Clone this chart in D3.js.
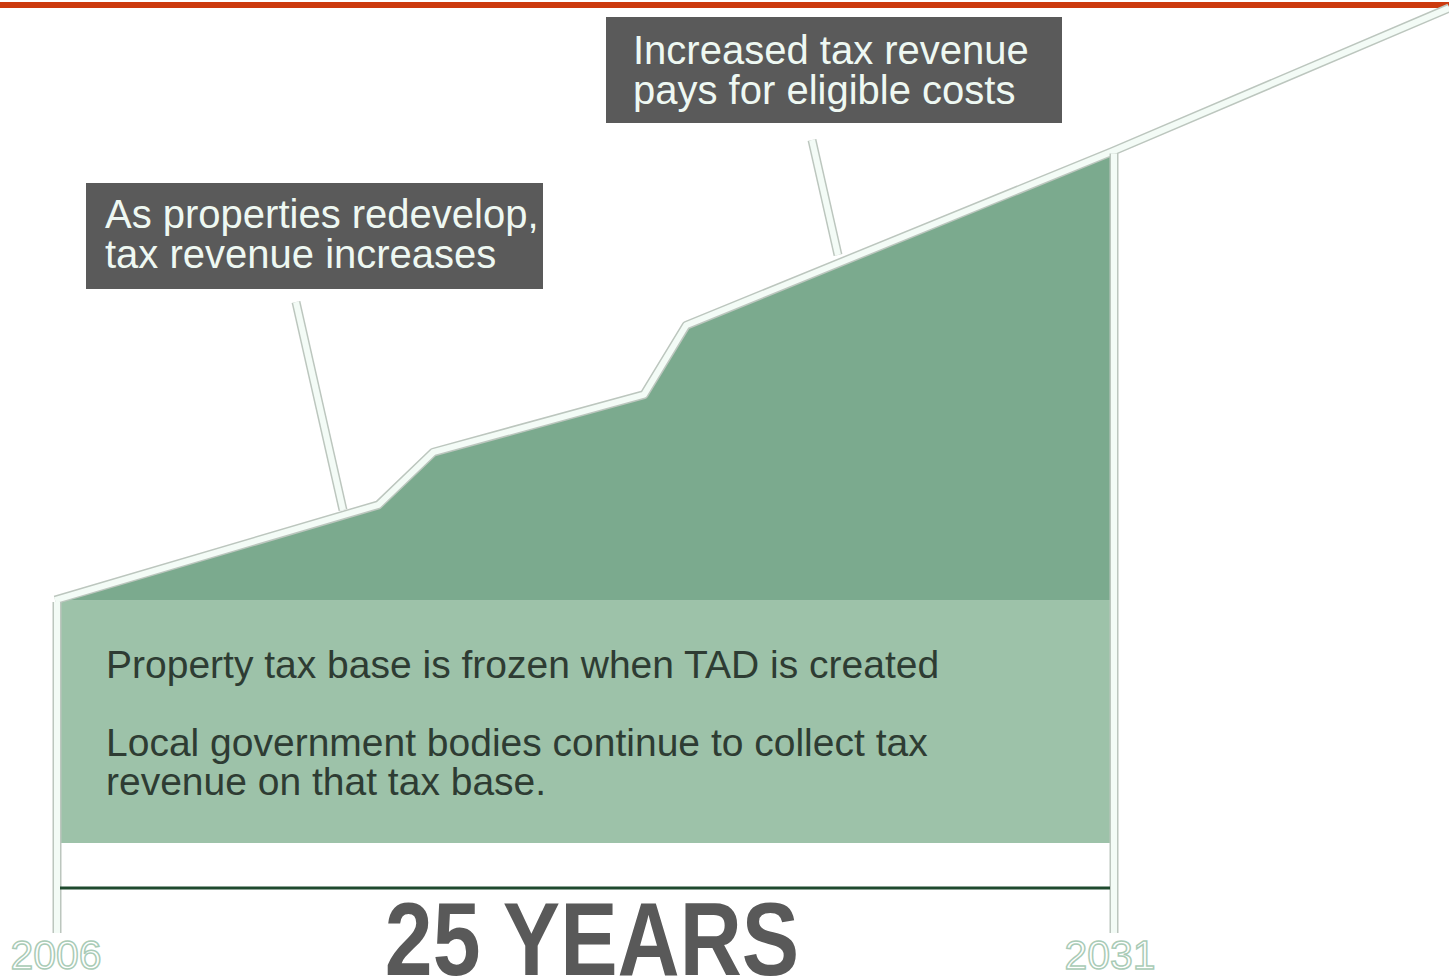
<!DOCTYPE html>
<html><head><meta charset="utf-8">
<script src="https://cdn.jsdelivr.net/npm/d3@7/dist/d3.min.js"></script>
<style>html,body{margin:0;padding:0;background:#fff;}svg{display:block;}</style>
</head><body><svg id="c" width="1449" height="976"></svg>
<script>
// Data (schematic values)
const years   = [2006, 2013.6, 2014.9, 2019.9, 2020.9, 2031, 2039];
const revenue = [29.1, 40.5, 46.8, 53.7, 62.0, 82.8, 100];
const baseValue = 29.1;
const startYear = 2006, endYear = 2031;
const yearLabels = ["2006", "2031"];
const durationLabel = "25 YEARS";
const callout1 = ["As properties redevelop,", "tax revenue increases"];
const callout2 = ["Increased tax revenue", "pays for eligible costs"];
const baseText = ["Property tax base is frozen when TAD is created", "", "Local government bodies continue to collect tax", "revenue on that tax base."];

const svg = d3.select("#c");
const x = d3.scaleLinear().domain([2006, 2031]).range([58, 1112]);
const y = d3.scaleLinear().domain([0, 100]).range([843, 8]);
const pts = years.map((t, i) => ({t, v: revenue[i]}));
const font = "'Liberation Sans', Arial, Helvetica, sans-serif";

// top red rule
svg.append("rect").attr("x", 0).attr("y", 2).attr("width", 1449).attr("height", 6).attr("fill", "#cc3a0e");

function valAt(t){ for(let i=1;i<pts.length;i++){ if(t<=pts[i].t){ const a=pts[i-1], b=pts[i]; return a.v+(b.v-a.v)*(t-a.t)/(b.t-a.t);} } return pts[pts.length-1].v; }
const inner = pts.filter(p => p.t <= endYear);
if (inner[inner.length-1].t < endYear) inner.push({t:endYear, v:valAt(endYear)});

// increment area (dark green)
const area = d3.area().x(d => x(d.t)).y0(y(baseValue)).y1(d => y(d.v));
svg.append("path").datum(inner).attr("d", area).attr("fill", "#7baa8e");

// frozen base (light green)
svg.append("rect").attr("x", x(startYear)+2).attr("width", x(endYear)-x(startYear)-4)
  .attr("y", y(baseValue)).attr("height", y(0)-y(baseValue)).attr("fill", "#9dc2a9");

// outlined white lines
function outlined(d){
  svg.append("path").attr("d", d).attr("fill","none").attr("stroke","#bcc6be").attr("stroke-width",9).attr("stroke-linejoin","round");
  svg.append("path").attr("d", d).attr("fill","none").attr("stroke","#f3fbf6").attr("stroke-width",6).attr("stroke-linejoin","round");
}
const line = d3.line().x(d => x(d.t)).y(d => y(d.v));
outlined(line([{t:startYear-0.07, v:baseValue}].concat(pts.slice(1))));
outlined(`M${x(startYear)-1},${y(baseValue)+2}V933`);
outlined(`M${x(endYear)+2},${y(valAt(endYear))+2}V933`);

// leader lines
outlined("M296,302L343,510");
outlined("M812,140L838,255");

// callout boxes
function callout(bx, by, bw, bh, lines, tx, ty){
  svg.append("rect").attr("x",bx).attr("y",by).attr("width",bw).attr("height",bh).attr("fill","#5a5a5a");
  lines.forEach((s,i)=> svg.append("text").attr("x",tx).attr("y",ty+i*40).text(s)
    .attr("font-family",font).attr("font-size",40).attr("fill","#eef8f2"));
}
callout(86,183,457,106,callout1,105,228);
callout(606,17,456,106,callout2,633,64);

// base text
const bty = [678, 0, 756, 795];
baseText.forEach((s,i)=>{ if(s) svg.append("text").attr("x",106).attr("y",bty[i]).text(s)
  .attr("font-family",font).attr("font-size",39).attr("fill","#2e3c33")
  .attr("textLength", null); });

// timeline bar
svg.append("line").attr("x1",x(startYear)+2).attr("x2",x(endYear)-2).attr("y1",888).attr("y2",888)
  .attr("stroke","#1f4a2e").attr("stroke-width",3);

// year labels (outlined)
[startYear, endYear].forEach((t,i)=>{
  svg.append("text").attr("x", x(t)-2).attr("y",969).attr("text-anchor","middle").text(yearLabels[i])
    .attr("font-family",font).attr("font-size",41).attr("fill","#ffffff").attr("stroke","#a9cbb6").attr("stroke-width",1.5);
});

// duration (slightly tall lettering, as in the reference)
svg.append("text").attr("transform","translate(592,975) scale(1,1.2)").attr("text-anchor","middle").text(durationLabel)
  .attr("font-family",font).attr("font-weight","bold").attr("font-size",86).attr("fill","#595959");
</script></body></html>
